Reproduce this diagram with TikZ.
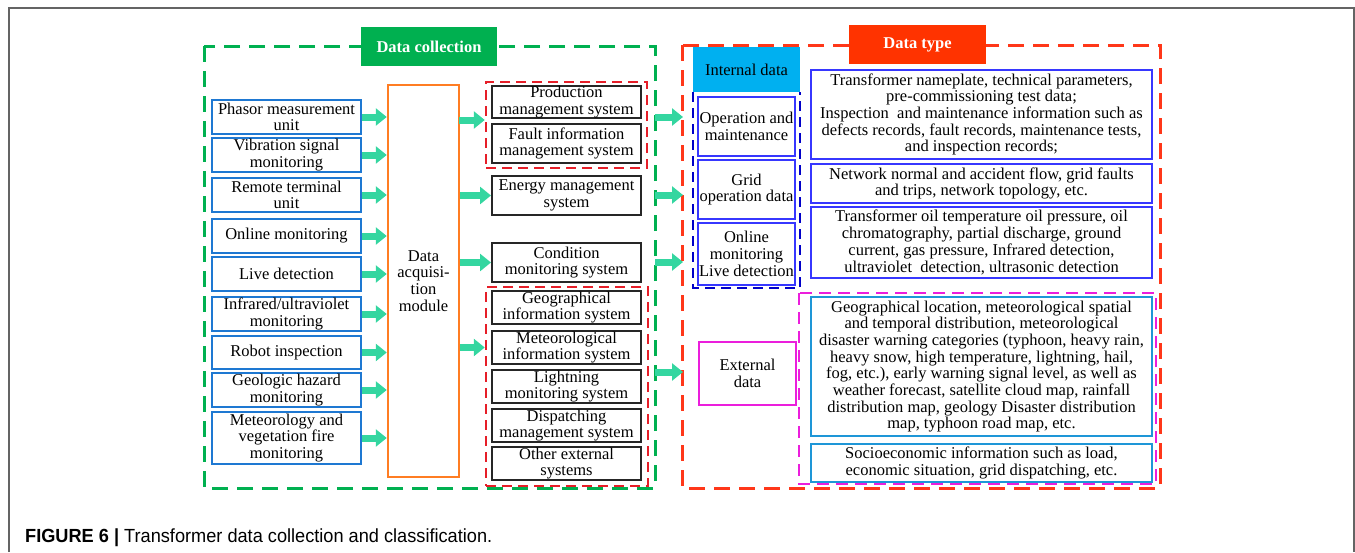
\documentclass[tikz,border=0pt]{standalone}
\usepackage{fontspec}
\setmainfont{Liberation Serif}
\newfontfamily\capfont{Liberation Sans}
\usetikzlibrary{arrows.meta}
\definecolor{arrgreen}{RGB}{52,214,160}
\definecolor{dgreen}{RGB}{0,176,80}
\definecolor{dorange}{RGB}{255,125,35}
\definecolor{lblue}{RGB}{30,120,210}
\definecolor{mred}{RGB}{230,30,40}
\definecolor{bred}{RGB}{255,55,25}
\definecolor{tred}{RGB}{255,51,0}
\definecolor{icyan}{RGB}{0,176,240}
\definecolor{dblue}{RGB}{0,0,200}
\definecolor{rblue}{RGB}{55,55,255}
\definecolor{mag}{RGB}{235,30,220}
\definecolor{cblue}{RGB}{30,150,215}
\definecolor{frame}{RGB}{100,100,100}
\tikzset{
  txt/.style={inner sep=0pt, align=center, font=\fontsize{16.5}{16.7}\selectfont, text=black},
  lbox/.style={txt, draw=lblue, line width=2pt, minimum width=149pt},
  mbox/.style={txt, draw=black!85, line width=2pt, minimum width=149pt},
  ibox/.style={txt, draw=rblue, line width=2pt, minimum width=97pt},
  rbox/.style={txt, draw=rblue, line width=2pt, minimum width=341pt},
  cbox/.style={txt, draw=cblue, line width=2pt, minimum width=341pt},
  flow/.style={draw=arrgreen, line width=7pt, -{Triangle[length=11pt,width=17pt]}},
  title/.style={inner sep=0pt, font=\fontsize{16.5}{16.7}\selectfont\bfseries, text=white}
}
\begin{document}
\begin{tikzpicture}[x=1pt,y=-1pt]
\useasboundingbox (0,0) rectangle (1355,552);
% outer frame
\draw[frame, line width=1.5pt] (9,552) -- (9,8) -- (1354,8) -- (1354,552);

% ---- Data collection group ----
\draw[dgreen, line width=3pt, dash pattern=on 16pt off 9pt] (204,46) rectangle (655,488);
\node[title, fill=dgreen, minimum width=136pt, minimum height=39pt] (dc) at (429,46.5) {Data collection};

\node[lbox, minimum height=34pt] (l1) at (286.5,117) {Phasor measurement\\unit};
\node[lbox, minimum height=34pt] (l2) at (286.5,155) {Vibration signal\\monitoring};
\node[lbox, minimum height=34pt] (l3) at (286.5,195) {Remote terminal\\unit};
\node[lbox, minimum height=34pt] (l4) at (286.5,236) {Online monitoring};
\node[lbox, minimum height=34pt] (l5) at (286.5,274) {Live detection};
\node[lbox, minimum height=34pt] (l6) at (286.5,314) {Infrared/ultraviolet\\monitoring};
\node[lbox, minimum height=33pt] (l7) at (286.5,352.5) {Robot inspection};
\node[lbox, minimum height=34pt] (l8) at (286.5,390) {Geologic hazard\\monitoring};
\node[lbox, minimum height=52pt] (l9) at (286.5,438) {Meteorology and\\vegetation fire\\monitoring};

\node[txt, draw=dorange, line width=2.5pt, minimum width=71pt, minimum height=392pt] (daq) at (423.5,281) {Data\\acquisi-\\tion\\module};

\foreach \n in {l1,l2,l3,l4,l5,l6,l7,l8,l9}
  \draw[flow] (\n.east) -- (\n.east -| daq.west);

% middle systems
\node[mbox, minimum height=32pt] (m1) at (566.5,102) {Production\\management system};
\node[mbox, minimum height=39pt] (m2) at (566.5,143.5) {Fault information\\management system};
\node[mbox, minimum height=39pt] (m3) at (566.5,195.5) {Energy management\\system};
\node[mbox, minimum height=39pt] (m4) at (566.5,262.5) {Condition\\monitoring system};
\node[mbox, minimum height=33pt] (m5) at (566.5,307.5) {Geographical\\information system};
\node[mbox, minimum height=33pt] (m6) at (566.5,347.5) {Meteorological\\information system};
\node[mbox, minimum height=33pt] (m7) at (566.5,386.5) {Lightning\\monitoring system};
\node[mbox, minimum height=33pt] (m8) at (566.5,425.5) {Dispatching\\management system};
\node[mbox, minimum height=33pt] (m9) at (566.5,463.5) {Other external\\systems};

\node[draw=mred, line width=2.5pt, dash pattern=on 10pt off 6pt, inner sep=0pt, minimum width=161pt, minimum height=86pt] (g1) at (566.5,125) {};
\node[draw=mred, line width=2.5pt, dash pattern=on 10pt off 6pt, inner sep=0pt, minimum width=162pt, minimum height=199pt] (g2) at (567,386.5) {};

\coordinate (a1) at (459,120);
\draw[flow] (a1) -- (a1 -| g1.west);
\draw[flow] (daq.east |- m3.west) -- (m3.west);
\draw[flow] (daq.east |- m4.west) -- (m4.west);
\draw[flow] (daq.east |- m6.west) -- (g2.west |- m6.west);

% ---- Data type group ----
\draw[bred, line width=3pt, dash pattern=on 16pt off 9pt] (682,45) rectangle (1160,488);
\node[title, fill=tred, minimum width=137pt, minimum height=39pt] (dt) at (917.5,44.5) {Data type};

\node[txt, fill=icyan, minimum width=107pt, minimum height=45pt] (int) at (746.5,69.5) {Internal data};
\draw[dblue, line width=2.5pt, dash pattern=on 10pt off 6pt] (693,92) -- (693,288) -- (800,288) -- (800,92);
\node[ibox, minimum height=59pt] (i1) at (746.5,126.5) {Operation and\\maintenance};
\node[ibox, minimum height=59pt] (i2) at (746.5,189.5) {Grid\\operation data};
\node[ibox, minimum height=62pt] (i3) at (746.5,254) {Online\\monitoring\\Live detection};

\node[rbox, minimum height=89pt] (ra) at (981.5,114.5) {Transformer nameplate, technical parameters,\\pre-commissioning test data;\\Inspection\ \ and maintenance information such as\\defects records, fault records, maintenance tests,\\and inspection records;};
\node[rbox, minimum height=39pt] (rb) at (981.5,183.5) {Network normal and accident flow, grid faults\\and trips, network topology, etc.};
\node[rbox, minimum height=71pt] (rc) at (981.5,242.5) {Transformer oil temperature oil pressure, oil\\chromatography, partial discharge, ground\\current, gas pressure, Infrared detection,\\ultraviolet\ \ detection, ultrasonic detection};

\draw[mag, line width=2.5pt, dash pattern=on 12pt off 7pt] (799,293) rectangle (1156,484);
\node[txt, draw=mag, line width=2pt, minimum width=97pt, minimum height=63pt] (ext) at (747.5,373.5) {External\\data};
\node[cbox, minimum height=139pt] (rd) at (981.5,366.5) {Geographical location, meteorological spatial\\and temporal distribution, meteorological\\disaster warning categories (typhoon, heavy rain,\\heavy snow, high temperature, lightning, hail,\\fog, etc.), early warning signal level, as well as\\weather forecast, satellite cloud map, rainfall\\distribution map, geology Disaster distribution\\map, typhoon road map, etc.};
\node[cbox, minimum height=38pt] (re) at (981.5,463) {Socioeconomic information such as load,\\economic situation, grid dispatching, etc.};

% arrows between groups
\coordinate (b1) at (655,117);
\coordinate (b2) at (655,195);
\coordinate (b3) at (655,262);
\coordinate (b4) at (655,372);
\coordinate (c1) at (683,117);
\coordinate (c2) at (683,195);
\coordinate (c3) at (683,262);
\coordinate (c4) at (683,372);
\draw[flow] (b1) -- (c1);
\draw[flow] (b2) -- (c2);
\draw[flow] (b3) -- (c3);
\draw[flow] (b4) -- (c4);

% caption
\node[inner sep=0pt, anchor=base west, font=\capfont\fontsize{19}{20}\selectfont] (cap) at (25,542)
  {\resizebox{467pt}{\height}{\textbf{FIGURE 6 |} Transformer data collection and classification.}};
\end{tikzpicture}
\end{document}
